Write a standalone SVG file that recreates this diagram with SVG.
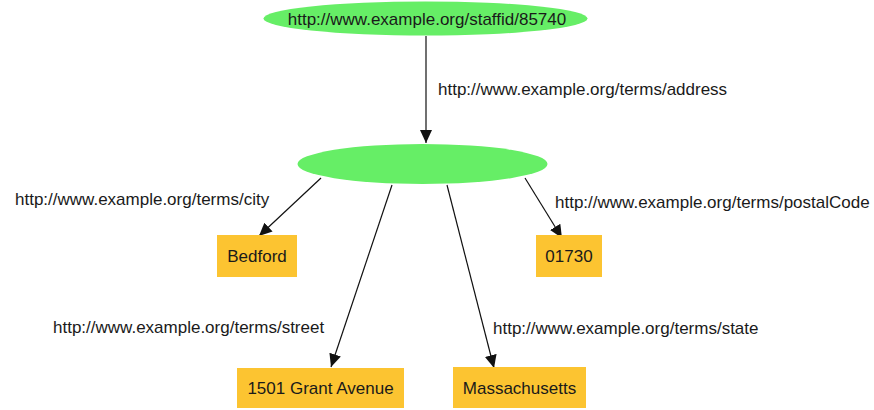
<svg xmlns="http://www.w3.org/2000/svg" width="874" height="410" viewBox="0 0 874 410">
<style>
.res{fill:#66EE66;stroke:none}
.lit{fill:#FCC431;stroke:none}
.t{font-family:"Liberation Sans",Arial,sans-serif;font-size:17px;fill:#1a1a1a}
.m{text-anchor:middle}
.e{stroke:#111;stroke-width:1.2;fill:none;marker-end:url(#ah)}
</style>
<defs>
<marker id="ah" markerUnits="userSpaceOnUse" markerWidth="14" markerHeight="12" refX="13" refY="6" orient="auto">
<path d="M0,0 L13,6 L0,12 Z" fill="#111"/>
</marker>
</defs>
<rect width="874" height="410" fill="#fff"/>
<g id="connectors">
<line class="e" x1="426" y1="36" x2="426" y2="143"/>
<line class="e" x1="321" y1="178" x2="259" y2="236"/>
<line class="e" x1="525" y1="178" x2="562" y2="238"/>
<line class="e" x1="392" y1="185" x2="331" y2="367"/>
<line class="e" x1="447" y1="185" x2="494" y2="368"/>
<text class="t" x="438" y="95">http://www.example.org/terms/address</text>
<text class="t" x="15" y="205">http://www.example.org/terms/city</text>
<text class="t" x="555" y="208">http://www.example.org/terms/postalCode</text>
<text class="t" x="53" y="333">http://www.example.org/terms/street</text>
<text class="t" x="493" y="334">http://www.example.org/terms/state</text>
</g>
<g id="staff">
<ellipse class="res" cx="425.5" cy="18.5" rx="162" ry="17"/>
<text class="t m" x="427" y="24.5">http://www.example.org/staffid/85740</text>
</g>
<g id="address">
<ellipse class="res" cx="422.5" cy="164" rx="125" ry="20"/>
</g>
<g id="bedford">
<rect class="lit" x="217" y="235" width="80" height="42"/>
<text class="t m" x="257" y="262">Bedford</text>
</g>
<g id="postal">
<rect class="lit" x="536" y="235" width="66" height="42"/>
<text class="t m" x="569" y="262">01730</text>
</g>
<g id="street">
<rect class="lit" x="237" y="368" width="167" height="40"/>
<text class="t m" x="320.5" y="394">1501 Grant Avenue</text>
</g>
<g id="state">
<rect class="lit" x="453" y="367" width="133" height="41"/>
<text class="t m" x="519.5" y="394">Massachusetts</text>
</g>
</svg>
